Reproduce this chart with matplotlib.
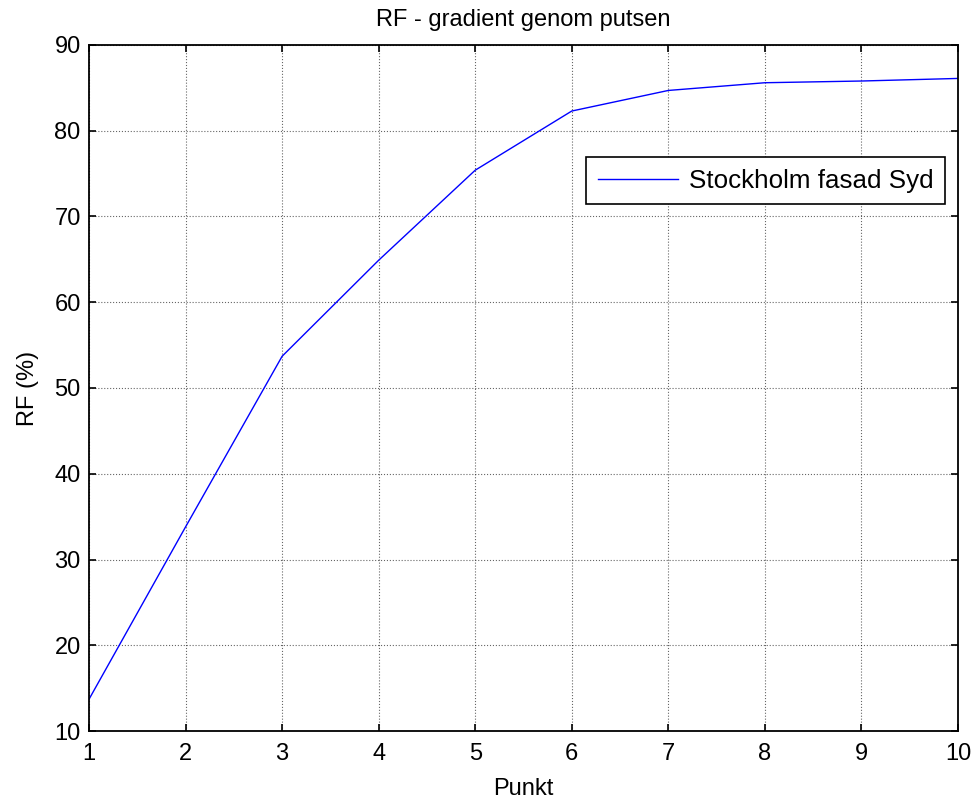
import numpy as np
import matplotlib
matplotlib.use('Agg')
from matplotlib import pyplot as plt

# Data
punkt = [1, 2, 3, 4, 5, 6, 7, 8, 9, 10]
rf = [13.7, 33.8, 53.7, 64.9, 75.4, 82.3, 84.7, 85.6, 85.8, 86.1]
series_name = 'Stockholm fasad Syd'
x_ticks = list(range(1, 11))
y_ticks = list(range(10, 91, 10))

plt.rcParams['font.family'] = ['Liberation Sans', 'DejaVu Sans']

fig = plt.figure(figsize=(9.76, 8.02), dpi=100)
ax = fig.add_axes([89 / 976, 1 - 731 / 802, (958 - 89) / 976, (731 - 45) / 802])

ax.plot(punkt, rf, color='blue', linewidth=1.0, label=series_name)

ax.set_xlim(1, 10)
ax.set_ylim(10, 90)
ax.set_xticks(x_ticks)
ax.set_yticks(y_ticks)
ax.tick_params(direction='in', top=True, right=True, labelsize=17, length=5, width=1.2)
ax.tick_params(axis='x', pad=9)
ax.tick_params(axis='y', pad=6)

ax.grid(True, linestyle=':', color='black', linewidth=0.8, alpha=0.6)
for s in ax.spines.values():
    s.set_linewidth(1.3)

ax.set_title('RF - gradient genom putsen', fontsize=17, pad=14)
ax.set_xlabel('Punkt', fontsize=17, labelpad=9)
ax.set_ylabel('RF (%)', fontsize=17, labelpad=11)

leg = ax.legend(loc='upper right', bbox_to_anchor=((945 - 89) / 869, (731 - 157) / 686),
                borderaxespad=0, fontsize=18.7, fancybox=False, framealpha=1,
                edgecolor='black', handlelength=3.1, borderpad=0.45, handletextpad=0.4)
leg.get_frame().set_linewidth(1.2)

plt.savefig('out.png', dpi=100)
